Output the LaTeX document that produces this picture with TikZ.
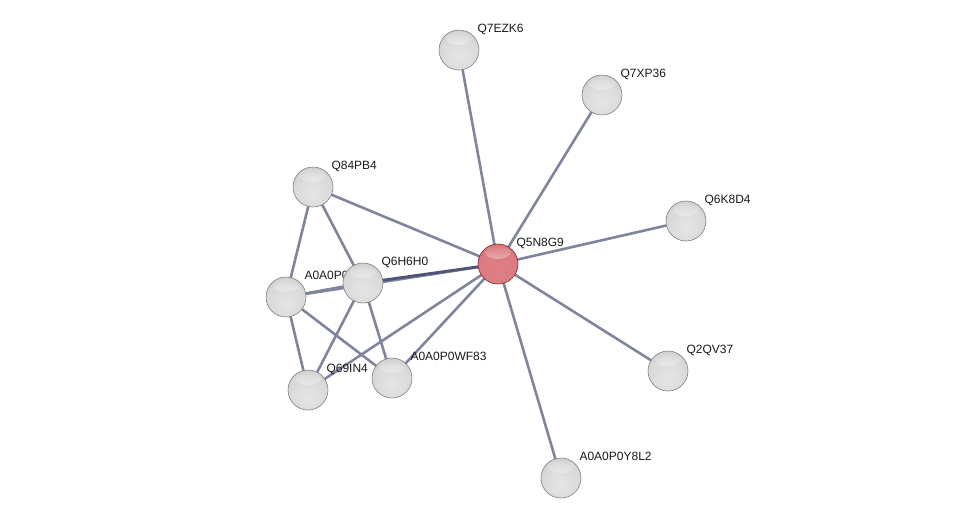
\documentclass[tikz,border=0pt]{standalone}
\usepackage{fontspec}
\setmainfont{Liberation Sans}
\usetikzlibrary{backgrounds,fadings}
\definecolor{redc}{RGB}{222,128,134}
\definecolor{redm}{RGB}{206,96,104}
\definecolor{redr}{RGB}{160,50,58}
\pgfdeclareradialshading{glassball}{\pgfpoint{0bp}{-10bp}}{color(0bp)=(white!90!black); color(24bp)=(white!85!black); color(40bp)=(white!74!black); color(52bp)=(white!60!black); color(62bp)=(white!50!black)}
\pgfdeclareradialshading{redball}{\pgfpoint{0bp}{-10bp}}{color(0bp)=(redc); color(24bp)=(redc!85!redm); color(40bp)=(redm); color(52bp)=(redr); color(62bp)=(redr!85!black)}
\begin{document}
\begin{tikzpicture}[
    x=1pt, y=-1pt,
    font=\fontsize{12}{14}\selectfont,
    gloss/.style={path picture={\fill[white, path fading=north, opacity=0.9] ([yshift=-8pt]path picture bounding box.north) ellipse [x radius=13pt, y radius=7pt];}},
    protein/.style={circle, minimum size=40pt, inner sep=0pt, shading=glassball, draw=black!50, line width=0.6pt, gloss},
    query/.style={protein, shading=redball, draw=redr!80!black},
    lbl/.style={anchor=base west, inner sep=0pt, xshift=4pt, yshift=3pt, text=black!90},
    link/.style={draw=linkgray, line width=2.6pt},
    strong/.style={draw=linkdark, line width=2.8pt}
]
\definecolor{linkgray}{RGB}{128,133,158}
\definecolor{linkdark}{RGB}{78,84,118}
\useasboundingbox (0,0) rectangle (976,523);

\node[query] (q5n8g9) at (498,264) [label={[lbl]45:Q5N8G9}] {};
\node[protein] (q7ezk6) at (459,50) [label={[lbl]45:Q7EZK6}] {};
\node[protein] (q7xp36) at (602,95) [label={[lbl]45:Q7XP36}] {};
\node[protein] (q84pb4) at (313,187) [label={[lbl]45:Q84PB4}] {};
\node[protein] (q6k8d4) at (686,221) [label={[lbl]45:Q6K8D4}] {};
\node[protein] (a0a0p0) at (286,297) [label={[lbl]45:A0A0P0}] {};
\node[protein] (q6h6h0) at (363,283) [label={[lbl]45:Q6H6H0}] {};
\node[protein] (q2qv37) at (668,371) [label={[lbl]45:Q2QV37}] {};
\node[protein] (q69in4) at (308,390) [label={[lbl]45:Q69IN4}] {};
\node[protein] (wf83) at (392,378) [label={[lbl]45:A0A0P0WF83}] {};
\node[protein] (y8l2) at (561,478) [label={[lbl]45:A0A0P0Y8L2}] {};

\begin{pgfonlayer}{background}
\draw[link] (q5n8g9.center) -- (q7ezk6.center);
\draw[link] (q5n8g9.center) -- (q7xp36.center);
\draw[link] (q5n8g9.center) -- (q6k8d4.center);
\draw[link] (q5n8g9.center) -- (q2qv37.center);
\draw[link] (q5n8g9.center) -- (y8l2.center);
\draw[link] (q5n8g9.center) -- (q84pb4.center);
\draw[link] (q5n8g9.center) -- (a0a0p0.center);
\draw[link] (q5n8g9.center) -- (q69in4.center);
\draw[link] (q5n8g9.center) -- (wf83.center);
\draw[strong] (q5n8g9.center) -- (q6h6h0.center);
\draw[link] (q84pb4.center) -- (a0a0p0.center);
\draw[link] (q84pb4.center) -- (q6h6h0.center);
\draw[link] (a0a0p0.center) -- (q6h6h0.center);
\draw[link] (a0a0p0.center) -- (q69in4.center);
\draw[link] (a0a0p0.center) -- (wf83.center);
\draw[link] (q6h6h0.center) -- (q69in4.center);
\draw[link] (q6h6h0.center) -- (wf83.center);
\end{pgfonlayer}
\end{tikzpicture}
\end{document}
